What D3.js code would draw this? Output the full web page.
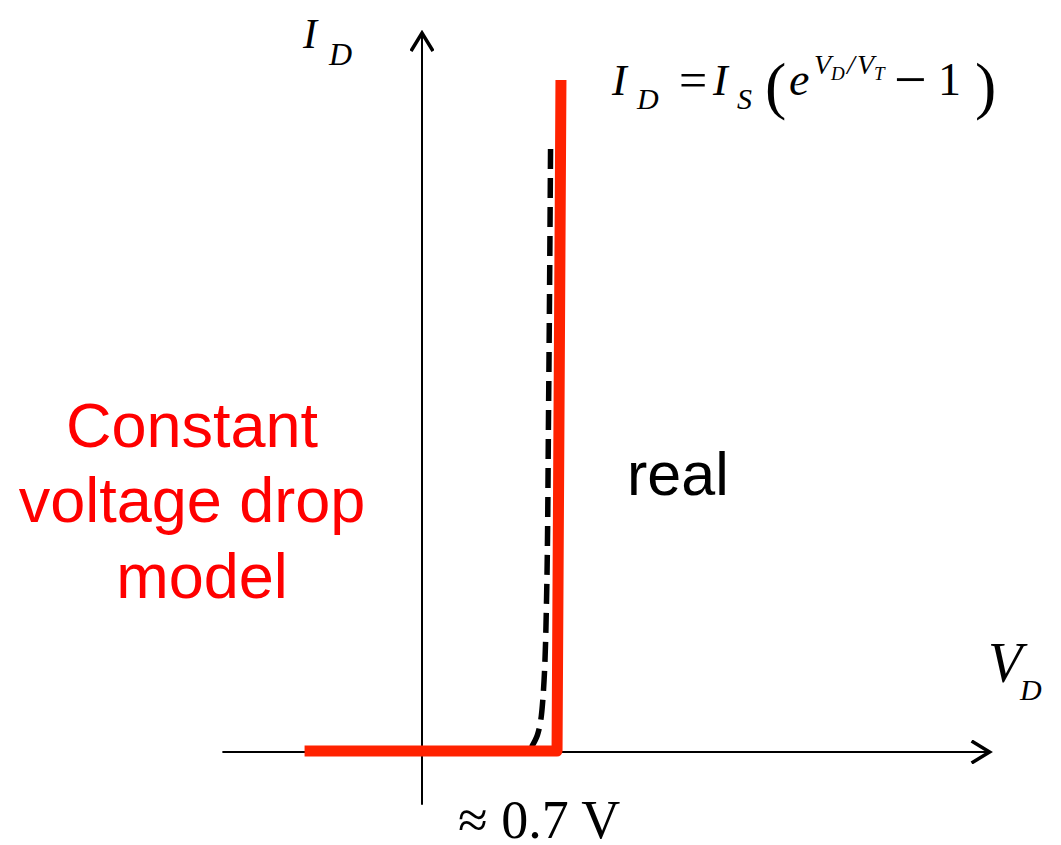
<!DOCTYPE html>
<html>
<head>
<meta charset="utf-8">
<script src="https://cdn.jsdelivr.net/npm/d3@7"></script>
<style>
  body { margin: 0; background: #fff; }
  svg { display: block; }
</style>
</head>
<body>
<div id="chart"></div>
<script>
// diode I-V curve: constant voltage drop model vs real exponential curve

// axis extents (V in volts, I in arbitrary units)
const axisV = [-1.02, 2.9];
const axisI = [-0.08, 1.07];

// constant voltage drop model (red)
const modelV = [-0.6, 0.69, 0.71];
const modelI = [0, 0, 1];

// real diode curve (dashed)
const realV = [0.56, 0.59, 0.617, 0.636, 0.647, 0.657];
const realI = [0.006, 0.024, 0.075, 0.22, 0.52, 0.905];

const width = 1061, height = 845;

const svg = d3.select("#chart")
  .append("svg")
  .attr("width", width)
  .attr("height", height);

let xScale = d3.scaleLinear()
  .domain([0, 0.7])
  .range([422, 559]);

let yScale = d3.scaleLinear()
  .domain([0, 1])
  .range([751, 80]);

// arrow heads
const defs = svg.append("defs");
defs.append("marker")
  .attr("id", "arrow")
  .attr("markerUnits", "userSpaceOnUse")
  .attr("viewBox", "0 0 24 24")
  .attr("refX", 21)
  .attr("refY", 12)
  .attr("markerWidth", 24)
  .attr("markerHeight", 24)
  .attr("orient", "auto")
  .append("path")
  .attr("d", "M3,1 L21,12 L3,23")
  .attr("fill", "none")
  .attr("stroke", "#000")
  .attr("stroke-width", 3.5)
  .attr("stroke-linejoin", "miter");

// Axes
svg.append("line")
  .attr("x1", xScale(axisV[0]))
  .attr("x2", xScale(axisV[1]))
  .attr("y1", yScale(0) + 1)
  .attr("y2", yScale(0) + 1)
  .attr("stroke", "#000")
  .attr("stroke-width", 2)
  .attr("marker-end", "url(#arrow)");

svg.append("line")
  .attr("x1", xScale(0))
  .attr("x2", xScale(0))
  .attr("y1", yScale(axisI[0]))
  .attr("y2", yScale(axisI[1]))
  .attr("stroke", "#000")
  .attr("stroke-width", 2)
  .attr("marker-end", "url(#arrow)");

// Lines
const line = d3.line()
  .x(d => xScale(d[0]))
  .y(d => yScale(d[1]));

svg.append("path")
  .datum(realV.map((v, i) => [v, realI[i]]))
  .attr("d", line.curve(d3.curveMonotoneY))
  .attr("fill", "none")
  .attr("stroke", "#000")
  .attr("stroke-width", 5.5)
  .attr("stroke-dasharray", "20 9");

svg.append("path")
  .datum(modelV.map((v, i) => [v, modelI[i]]))
  .attr("d", line.curve(d3.curveLinear))
  .attr("fill", "none")
  .attr("stroke", "#ff2200")
  .attr("stroke-width", 11)
  .attr("stroke-linejoin", "round");

// Labels
const serif = "'Liberation Serif', 'Times New Roman', serif";
const sans = "'Liberation Sans', Arial, sans-serif";

function mathText(g, x, y, size, str, italic) {
  return g.append("text").attr("x", x).attr("y", y)
    .style("font-family", serif)
    .style("font-style", italic ? "italic" : "normal")
    .style("font-size", size + "px")
    .text(str);
}

// I_D axis label
mathText(svg, 303, 48, 42, "I", true);
mathText(svg, 329, 65, 32, "D", true);

// V_D axis label
mathText(svg, 988, 682, 56, "V", true);
mathText(svg, 1020, 700, 30, "D", true);

// ≈ 0.7 V
mathText(svg, 458, 838, 54, "\u2248 0.7 V", false);

// Shockley equation
const eq = svg.append("g");
mathText(eq, 612, 95, 44, "I", true);
mathText(eq, 637, 109, 30, "D", true);
mathText(eq, 679, 97, 50, "=", false);
mathText(eq, 713, 95, 44, "I", true);
mathText(eq, 737, 109, 30, "S", true);
mathText(eq, 765, 107, 64, "(", false);
mathText(eq, 789, 95, 46, "e", true);
mathText(eq, 814, 74, 28, "V", true);
mathText(eq, 831, 80, 19, "D", true);
mathText(eq, 847, 74, 28, "/", true);
mathText(eq, 857, 74, 28, "V", true);
mathText(eq, 874, 80, 19, "T", true);
mathText(eq, 894, 99, 58, "\u2212", false);
mathText(eq, 938, 95, 46, "1", false);
mathText(eq, 975, 107, 64, ")", false);

// Model label
const modelLines = [
  { text: "Constant", x: 192, y: 447 },
  { text: "voltage drop", x: 192, y: 522 },
  { text: "model", x: 202, y: 598 }
];
svg.selectAll(".model-label")
  .data(modelLines)
  .enter()
  .append("text")
  .attr("class", "model-label")
  .attr("x", d => d.x)
  .attr("y", d => d.y)
  .attr("text-anchor", "middle")
  .style("font-family", sans)
  .style("font-size", "63px")
  .style("fill", "#ff0000")
  .text(d => d.text);

svg.append("text").attr("x", 627).attr("y", 495)
  .style("font-family", sans).style("font-size", "61px")
  .text("real");
</script>
</body>
</html>
